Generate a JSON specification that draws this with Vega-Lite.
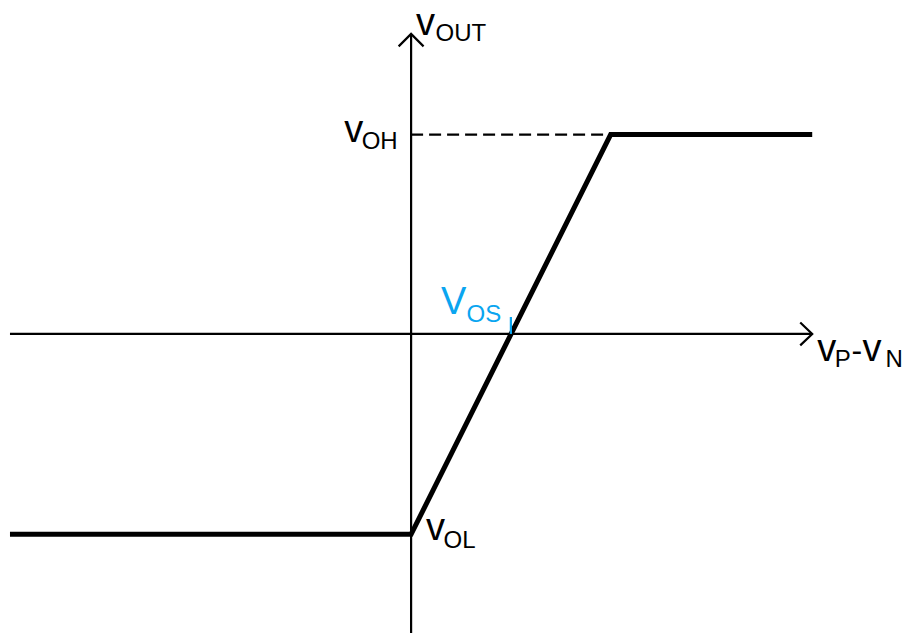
{
  "$schema": "https://vega.github.io/schema/vega-lite/v6.json",
  "description": "Comparator transfer characteristic: output voltage against differential input, with offset voltage marked.",
  "width": 908,
  "height": 635,
  "autosize": {"type": "fit", "contains": "padding"},
  "padding": 0,
  "background": "white",
  "config": {
    "view": {"stroke": null},
    "text": {"font": "Liberation Sans", "align": "left", "baseline": "alphabetic"}
  },
  "datasets": {
    "axes": [
      {"x": -4.02, "y": 0, "x2": 4.02, "y2": 0},
      {"x": 0, "y": -3.0, "x2": 0, "y2": 3.01}
    ],
    "arrows": [
      {"arrow": "up", "i": 0, "x": -0.125, "y": 2.885},
      {"arrow": "up", "i": 1, "x": 0, "y": 3.01},
      {"arrow": "up", "i": 2, "x": 0.125, "y": 2.885},
      {"arrow": "right", "i": 0, "x": 3.9, "y": 0.115},
      {"arrow": "right", "i": 1, "x": 4.02, "y": 0},
      {"arrow": "right", "i": 2, "x": 3.9, "y": -0.115}
    ],
    "voh_guide": [{"x": 0, "x2": 2.0, "y": 2.0}],
    "transfer": [
      {"i": 0, "x": -4.02, "y": -2.01},
      {"i": 1, "x": 0, "y": -2.01},
      {"i": 2, "x": 2.0, "y": 2.0},
      {"i": 3, "x": 4.02, "y": 2.0}
    ],
    "vos_tick": [{"x": 1.0, "y": 0, "y2": 0.17}],
    "labels_main": [
      {"x": 0.05, "y": 3.0, "text": "v"},
      {"x": -0.67, "y": 1.93, "text": "v"},
      {"x": 4.07, "y": -0.27, "text": "v"},
      {"x": 4.525, "y": -0.27, "text": "v"},
      {"x": 0.15, "y": -2.07, "text": "v"}
    ],
    "minus": [{"x": 4.415, "y": -0.27, "text": "-"}],
    "labels_sub": [
      {"x": 0.245, "y": 2.94, "text": "OUT"},
      {"x": -0.495, "y": 1.86, "text": "OH"},
      {"x": 4.245, "y": -0.33, "text": "P"},
      {"x": 4.755, "y": -0.33, "text": "N"},
      {"x": 0.325, "y": -2.15, "text": "OL"}
    ],
    "vos_main": [{"x": 0.3, "y": 0.2, "text": "V"}],
    "vos_sub": [{"x": 0.555, "y": 0.12, "text": "OS"}]
  },
  "encoding": {
    "x": {"field": "x", "type": "quantitative", "scale": {"domain": [-4.1, 4.98], "nice": false, "zero": false}, "axis": null},
    "y": {"field": "y", "type": "quantitative", "scale": {"domain": [-3.0, 3.35], "nice": false, "zero": false}, "axis": null}
  },
  "layer": [
    {
      "data": {"name": "axes"},
      "mark": {"type": "rule", "color": "black", "strokeWidth": 2.2},
      "encoding": {"x2": {"field": "x2"}, "y2": {"field": "y2"}}
    },
    {
      "data": {"name": "arrows"},
      "mark": {"type": "line", "color": "black", "strokeWidth": 2.2, "strokeJoin": "miter"},
      "encoding": {"detail": {"field": "arrow"}, "order": {"field": "i", "type": "quantitative"}}
    },
    {
      "data": {"name": "voh_guide"},
      "mark": {"type": "rule", "color": "black", "strokeWidth": 2.2, "strokeDash": [12, 6]},
      "encoding": {"x2": {"field": "x2"}}
    },
    {
      "data": {"name": "transfer"},
      "mark": {"type": "line", "color": "black", "strokeWidth": 5, "strokeJoin": "miter"},
      "encoding": {"order": {"field": "i", "type": "quantitative"}}
    },
    {
      "data": {"name": "vos_tick"},
      "mark": {"type": "rule", "color": "#0aa5f0", "strokeWidth": 2.2},
      "encoding": {"y2": {"field": "y2"}}
    },
    {
      "data": {"name": "labels_main"},
      "mark": {"type": "text", "fontSize": 38, "color": "black"},
      "encoding": {"text": {"field": "text"}}
    },
    {
      "data": {"name": "minus"},
      "mark": {"type": "text", "fontSize": 32, "color": "black"},
      "encoding": {"text": {"field": "text"}}
    },
    {
      "data": {"name": "labels_sub"},
      "mark": {"type": "text", "fontSize": 24, "color": "black"},
      "encoding": {"text": {"field": "text"}}
    },
    {
      "data": {"name": "vos_main"},
      "mark": {"type": "text", "fontSize": 38, "color": "#0aa5f0"},
      "encoding": {"text": {"field": "text"}}
    },
    {
      "data": {"name": "vos_sub"},
      "mark": {"type": "text", "fontSize": 24, "color": "#0aa5f0"},
      "encoding": {"text": {"field": "text"}}
    }
  ]
}
